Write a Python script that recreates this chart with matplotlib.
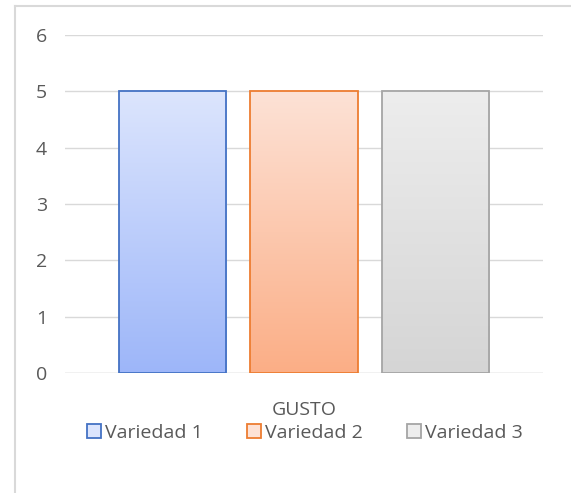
import matplotlib
matplotlib.use("Agg")
import matplotlib.pyplot as plt
import numpy as np
from matplotlib.patches import Patch
from matplotlib.colors import LinearSegmentedColormap
from matplotlib.lines import Line2D

categories = ["GUSTO"]
series = ["Variedad 1", "Variedad 2", "Variedad 3"]
values = [5, 5, 5]
yticks = [0, 1, 2, 3, 4, 5, 6]

top_colors = ["#dce5fd", "#fde2d6", "#ededed"]
bot_colors = ["#9db6f9", "#fbae86", "#d5d5d5"]
edge_colors = ["#4472c4", "#ed7d31", "#a5a5a5"]

plt.rcParams['font.family'] = ['Open Sans', 'DejaVu Sans']
fig = plt.figure(figsize=(5.71, 4.93), dpi=100)
ax = fig.add_axes([65/571, 1-373/493, 478/571, 338/493])

width = 0.224
offsets = [-0.275, 0.0, 0.276]
for i, (s, v) in enumerate(zip(series, values)):
    x = 0 + offsets[i]
    bars = ax.bar(x, v, width=width, facecolor="none", edgecolor=edge_colors[i],
                  linewidth=1.3, zorder=3)
    bar = bars[0]
    cmap = LinearSegmentedColormap.from_list("g%d" % i, [bot_colors[i], top_colors[i]])
    grad = np.linspace(0, 1, 256).reshape(-1, 1)
    im = ax.imshow(grad, cmap=cmap, aspect="auto", origin="lower",
                   extent=[x - width/2, x + width/2, 0, v], zorder=2)
    im.set_clip_path(bar)

ax.set_xlim(-0.5, 0.5)
ax.set_ylim(0, 6)
ax.set_yticks(yticks)
ax.set_xticks([0])
ax.set_xticklabels(categories)
for sp in ax.spines.values():
    sp.set_visible(False)
ax.grid(axis="y", color="#d9d9d9", linewidth=1, zorder=0)
ax.axhline(0, color="#d9d9d9", linewidth=1, zorder=1)
ax.tick_params(axis="both", length=0, colors="#595959", labelsize=14)
ax.tick_params(axis="y", pad=13)
ax.tick_params(axis="x", pad=20)

handles = [Patch(facecolor=top_colors[i], edgecolor=edge_colors[i], linewidth=1.3) for i in range(3)]
leg = fig.legend(handles, series, loc="center", bbox_to_anchor=(305/571, 1-433/493),
                 ncol=3, frameon=False, fontsize=14, handlelength=0.7, handleheight=0.7,
                 handletextpad=0.2, columnspacing=2.3, labelcolor="#595959")

# chart area border (left and top)
fig.add_artist(Line2D([15/571, 15/571], [0, 1-6/493], color="#d9d9d9", linewidth=1.5, transform=fig.transFigure))
fig.add_artist(Line2D([15/571, 1], [1-6/493, 1-6/493], color="#d9d9d9", linewidth=1.5, transform=fig.transFigure))

fig.savefig("out.png", dpi=100, facecolor="white")
